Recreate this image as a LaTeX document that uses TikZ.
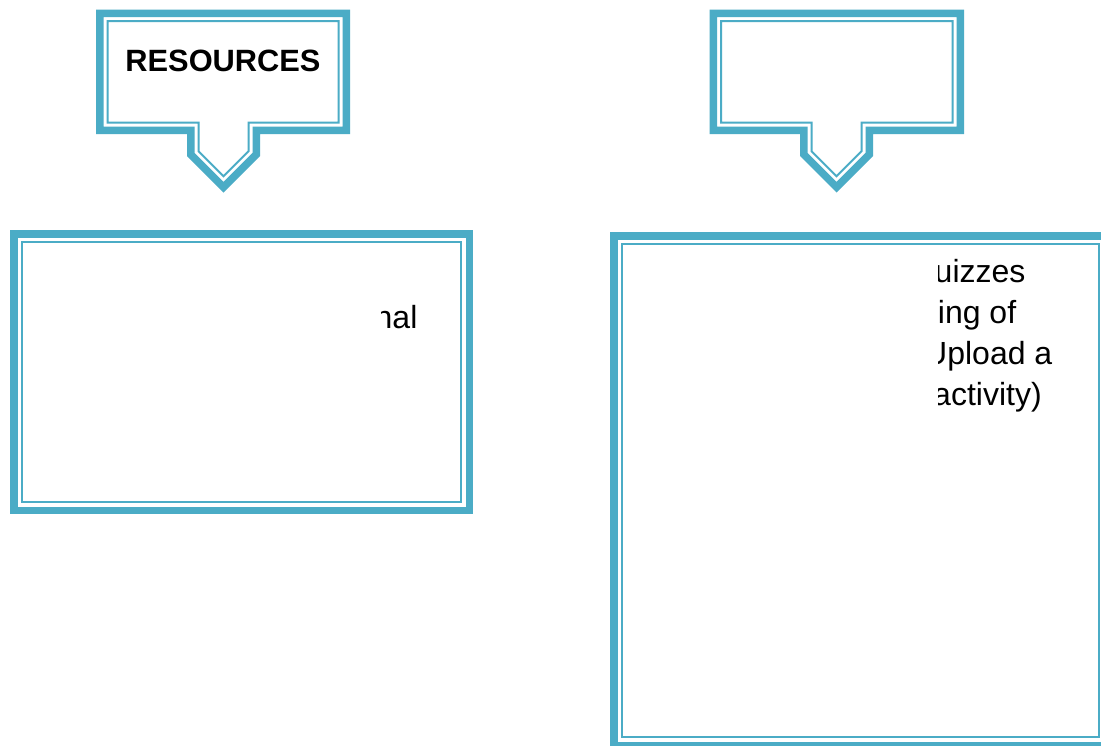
\documentclass[tikz,border=0pt]{standalone}
\usepackage{fontspec}
\setmainfont{Liberation Sans}
\definecolor{accentblue}{HTML}{4BACC6}
\newcommand\mycallout[9]{%
  \pgfmathsetmacro\cxl{#2+#9}%
  \pgfmathsetmacro\cxr{#4-#9}%
  \pgfmathsetmacro\cyt{#3+#9}%
  \pgfmathsetmacro\cyb{#5-#9}%
  \pgfmathsetmacro\csl{#6+#9}%
  \pgfmathsetmacro\csr{#7-#9}%
  \pgfmathsetmacro\csb{#8-0.4142*#9}%
  \pgfmathsetmacro\cm{(#6+#7)/2}%
  \pgfmathsetmacro\cty{#8+(#7-#6)/2-1.4142*#9}%
  \draw[#1] (\cxl,\cyt) -- (\cxr,\cyt) -- (\cxr,\cyb) -- (\csr,\cyb) -- (\csr,\csb) -- (\cm,\cty) -- (\csl,\csb) -- (\csl,\cyb) -- (\cxl,\cyb) -- cycle;%
}
\tikzset{
  band/.style={draw=accentblue, line width=7.5pt, miter limit=10},
  thinline/.style={draw=accentblue, line width=2pt, miter limit=10},
  bodytext/.style={anchor=base west, inner sep=0pt, font=\fontsize{32}{37}\selectfont, text=black},
  titletext/.style={anchor=base, inner sep=0pt, font=\fontsize{30.8}{36}\selectfont\bfseries, text=black}
}
\begin{document}
\begin{tikzpicture}[x=1pt,y=-1pt]
\clip (0,0) rectangle (1101,745);
\fill[white] (0,0) rectangle (1101,745);
% callouts
\mycallout{band}{96}{9.5}{350}{134}{187}{260}{156}{3.75}
\mycallout{thinline}{96}{9.5}{350}{134}{187}{260}{156}{11.5}
\mycallout{band}{709.5}{9.5}{964}{134}{800}{873}{156}{3.75}
\mycallout{thinline}{709.5}{9.5}{964}{134}{800}{873}{156}{11.5}
\node[titletext] (res) at (223,71) {RESOURCES};
% left box
\draw[band] (13.75,233.75) rectangle (469.25,510.25);
\draw[thinline] (22,242) rectangle (461,502);
% right box
\draw[band] (613.75,235.75) rectangle (1106.75,745.25);
\draw[thinline] (622,244) rectangle (1098.5,737);
% clipped texts
\begin{scope}
\clip (381,290) rectangle (455,345);
\node[bodytext] (ltext) at (374.5,328) {nal};
\end{scope}
\begin{scope}
\clip (938.5,250) rectangle (1094,420);
\node[bodytext] (r1) at (934.5,282) {uizzes};
\node[bodytext] (r2) at (937.7,323) {ing of};
\node[bodytext] (r3) at (924,364) {Upload a};
\node[bodytext] (r4) at (933,405) {activity)};
\end{scope}
\end{tikzpicture}
\end{document}
